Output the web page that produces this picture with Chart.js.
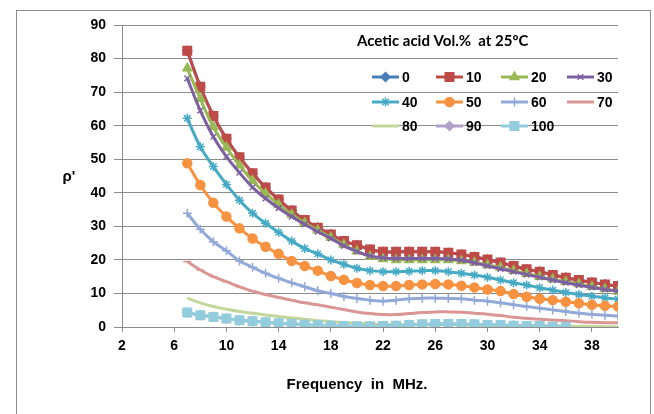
<!DOCTYPE html>
<html>
<head>
<meta charset="utf-8">
<script src="https://cdn.jsdelivr.net/npm/chart.js"></script>
<style>
  html, body { margin: 0; padding: 0; background: #fff; }
  #wrap { position: relative; width: 654px; height: 414px; }
</style>
</head>
<body>
<div id="wrap"><canvas id="chart" width="654" height="414"></canvas></div>
<script>
// frequency in MHz
const freq = [7, 8, 9, 10, 11, 12, 13, 14, 15, 16, 17, 18, 19, 20, 21, 22, 23, 24, 25, 26, 27, 28, 29, 30, 31, 32, 33, 34, 35, 36, 37, 38, 39, 40];
const xTickValues = [2, 6, 10, 14, 18, 22, 26, 30, 34, 38];

// rho' for each acetic acid vol.%
const vol0 = [82.3, 71.6, 62.9, 56.1, 50.6, 45.8, 41.6, 38.0, 34.7, 31.9, 29.6, 27.6, 25.6, 24.4, 23.1, 22.4, 22.4, 22.4, 22.4, 22.4, 22.1, 21.6, 20.9, 20.1, 19.2, 18.2, 17.2, 16.5, 15.5, 14.7, 14.0, 13.3, 12.7, 12.2];
const vol10 = [82.3, 71.6, 62.9, 56.1, 50.6, 45.8, 41.6, 38.0, 34.7, 31.9, 29.6, 27.6, 25.6, 24.4, 23.1, 22.4, 22.4, 22.4, 22.4, 22.4, 22.1, 21.6, 20.9, 20.1, 19.2, 18.2, 17.2, 16.5, 15.5, 14.7, 14.0, 13.3, 12.7, 12.2];
const vol20 = [77.1, 68.0, 59.6, 53.5, 48.2, 43.6, 39.8, 36.5, 33.5, 31.0, 28.8, 26.7, 24.5, 22.6, 21.0, 20.3, 20.0, 20.0, 20.0, 20.0, 20.0, 19.7, 19.2, 18.5, 17.7, 16.8, 15.9, 15.0, 14.2, 13.5, 12.8, 12.0, 11.3, 10.6];
const vol30 = [74.1, 64.5, 56.7, 50.8, 46.0, 41.6, 38.3, 35.4, 32.9, 30.6, 28.4, 26.4, 24.2, 22.5, 21.2, 20.6, 20.4, 20.4, 20.4, 20.4, 20.3, 19.9, 19.1, 18.2, 17.3, 16.5, 15.6, 14.8, 14.0, 13.2, 12.5, 11.8, 11.2, 10.7];
const vol40 = [62.2, 53.7, 47.8, 42.5, 37.8, 33.9, 30.9, 28.2, 25.6, 23.4, 21.8, 20.0, 18.7, 17.5, 16.8, 16.5, 16.5, 16.6, 16.8, 16.8, 16.5, 16.0, 15.5, 14.8, 14.0, 13.2, 12.5, 11.7, 11.0, 10.3, 9.7, 9.2, 8.7, 8.3];
const vol50 = [48.8, 42.3, 37.0, 32.9, 29.4, 26.4, 23.9, 21.8, 19.7, 18.2, 16.8, 15.2, 14.1, 13.1, 12.5, 12.2, 12.2, 12.5, 12.7, 12.8, 12.7, 12.3, 11.8, 11.2, 10.7, 9.8, 9.0, 8.4, 8.0, 7.5, 7.1, 6.6, 6.3, 6.1];
const vol60 = [33.9, 29.1, 25.4, 22.7, 19.7, 17.8, 16.0, 14.5, 13.2, 12.0, 10.8, 10.0, 9.1, 8.5, 8.0, 7.7, 8.0, 8.4, 8.6, 8.6, 8.5, 8.4, 8.0, 7.7, 7.2, 6.6, 6.1, 5.6, 5.1, 4.6, 4.1, 3.8, 3.5, 3.3];
const vol70 = [19.5, 17.0, 15.0, 13.5, 12.0, 10.7, 9.7, 8.8, 8.0, 7.2, 6.6, 5.9, 5.2, 4.5, 4.0, 3.7, 3.7, 4.0, 4.3, 4.5, 4.5, 4.4, 4.1, 3.8, 3.4, 2.9, 2.6, 2.3, 2.1, 1.9, 1.6, 1.4, 1.3, 1.3];
const vol80 = [8.6, 7.2, 6.1, 5.3, 4.6, 4.1, 3.6, 3.1, 2.7, 2.3, 1.9, 1.6, 1.3, 1.1, 0.9, 0.8, 0.7, 0.7, 0.7, 0.7, 0.7, 0.6, 0.6, 0.5, 0.5, 0.4, 0.4, 0.3, 0.3, 0.3, 0.2, 0.2, 0.1, 0.1];
const vol90 = [4.3, 3.5, 3.0, 2.5, 2.0, 1.7, 1.4, 1.1, 0.9, 0.7, 0.5, 0.4, 0.2, 0.2, 0.2, 0.3, 0.4, 0.6, 0.8, 0.9, 0.9, 0.9, 0.8, 0.6, 0.6, 0.4, 0.3, 0.3, 0.1, 0.1];
const vol100 = [4.3, 3.5, 3.0, 2.5, 2.0, 1.7, 1.4, 1.1, 0.9, 0.7, 0.5, 0.4, 0.2, 0.2, 0.2, 0.3, 0.4, 0.6, 0.8, 0.9, 0.9, 0.9, 0.8, 0.6, 0.6, 0.4, 0.3, 0.3, 0.1, 0.1];

const seriesNames = ["0", "10", "20", "30", "40", "50", "60", "70", "80", "90", "100"];
const seriesValues = [vol0, vol10, vol20, vol30, vol40, vol50, vol60, vol70, vol80, vol90, vol100];

// Excel-like look
const colors = ["#4A7EBB", "#BE4B48", "#98B954", "#7D60A0", "#46AAC5", "#F69240", "#93A9D8", "#DA9694", "#C3D69B", "#B3A2C7", "#93CDDD"];
const markers = ["rectRot", "rect", "triangle", "crossRot", "star", "circle", "cross", "line", false, "rectRot", "rect"];
const markerSize = [4.5, 6, 5, 4, 4.5, 4.5, 4.5, 4, 0, 4.5, 6];

const tickFont = { family: "'Liberation Sans', Arial", size: 14, weight: "bold" };
const gridColor = "#8c8c8c";

const datasets = seriesNames.map((name, i) => ({
  label: name,
  data: seriesValues[i].map((v, k) => ({ x: freq[k], y: v })),
  borderColor: colors[i],
  backgroundColor: colors[i],
  borderWidth: 3,
  pointStyle: markers[i],
  pointRadius: markerSize[i],
  pointBorderWidth: 1.5,
  tension: 0.4,
  order: seriesNames.length - 1 - i // later series drawn on top, like the original
}));

// axis titles, outer frame and the legend box inside the plot
const decor = {
  id: "decor",
  beforeDraw(chart) {
    const ctx = chart.ctx;
    ctx.save();
    ctx.fillStyle = "#fff";
    ctx.fillRect(0, 0, chart.width, chart.height);
    ctx.strokeStyle = "#8c8c8c";
    ctx.lineWidth = 1;
    ctx.strokeRect(16.5, 10.5, 634, 440);
    ctx.restore();
  },
  afterDraw(chart) {
    const ctx = chart.ctx;
    ctx.save();
    ctx.fillStyle = "#000";
    ctx.textBaseline = "middle";
    ctx.textAlign = "center";
    ctx.font = "bold 15px 'Liberation Sans', Arial";
    ctx.fillText("ρ'", 69, 177);
    ctx.font = "bold 15px 'Liberation Sans', Arial";
    ctx.fillText("Frequency  in  MHz.", 357, 385);

    ctx.textAlign = "left";
    ctx.font = "bold 15px Lato, 'Open Sans'";
    ctx.fillText("Acetic acid Vol.%  at 25ºC", 357, 41);

    const colX = [372, 436, 501, 567];
    const rowY = [77, 102, 126];
    ctx.font = "bold 14px 'Liberation Sans', Arial";
    const drawPoint = Chart.helpers && Chart.helpers.drawPoint;
    chart.data.datasets.forEach((ds, i) => {
      const x = colX[i % 4];
      const y = rowY[Math.floor(i / 4)];
      ctx.strokeStyle = ds.borderColor;
      ctx.fillStyle = ds.backgroundColor;
      ctx.lineWidth = 3;
      ctx.beginPath();
      ctx.moveTo(x, y);
      ctx.lineTo(x + 27, y);
      ctx.stroke();
      if (ds.pointStyle && ds.pointRadius > 0 && drawPoint) {
        ctx.lineWidth = 1.5;
        drawPoint(ctx, { pointStyle: ds.pointStyle, radius: ds.pointRadius, rotation: 0, borderWidth: 1.5 }, x + 13.5, y);
      }
      ctx.fillStyle = "#000";
      ctx.fillText(ds.label, x + 30, y + 1);
    });
    ctx.restore();
  }
};

new Chart(document.getElementById("chart"), {
  type: "line",
  data: { datasets },
  options: {
    responsive: false,
    animation: false,
    devicePixelRatio: 1,
    layout: { padding: { top: 25, right: 36, left: 0, bottom: 0 } },
    scales: {
      x: {
        type: "linear",
        min: 2,
        max: 40,
        afterBuildTicks: (scale) => { scale.ticks = xTickValues.map((v) => ({ value: v })); },
        afterFit: (scale) => { scale.height = 87; },
        ticks: { color: "#000", font: tickFont, padding: 6, maxRotation: 0, autoSkip: false },
        grid: { drawOnChartArea: false, drawTicks: true, tickLength: 5, color: gridColor },
        border: { color: gridColor }
      },
      y: {
        min: 0,
        max: 90,
        afterFit: (scale) => { scale.width = 122; },
        ticks: { stepSize: 10, color: "#000", font: tickFont, padding: 8 },
        grid: { color: gridColor, tickLength: 8 },
        border: { color: gridColor }
      }
    },
    plugins: {
      legend: { display: false },
      tooltip: { enabled: false }
    }
  },
  plugins: [decor]
});
</script>
</body>
</html>
